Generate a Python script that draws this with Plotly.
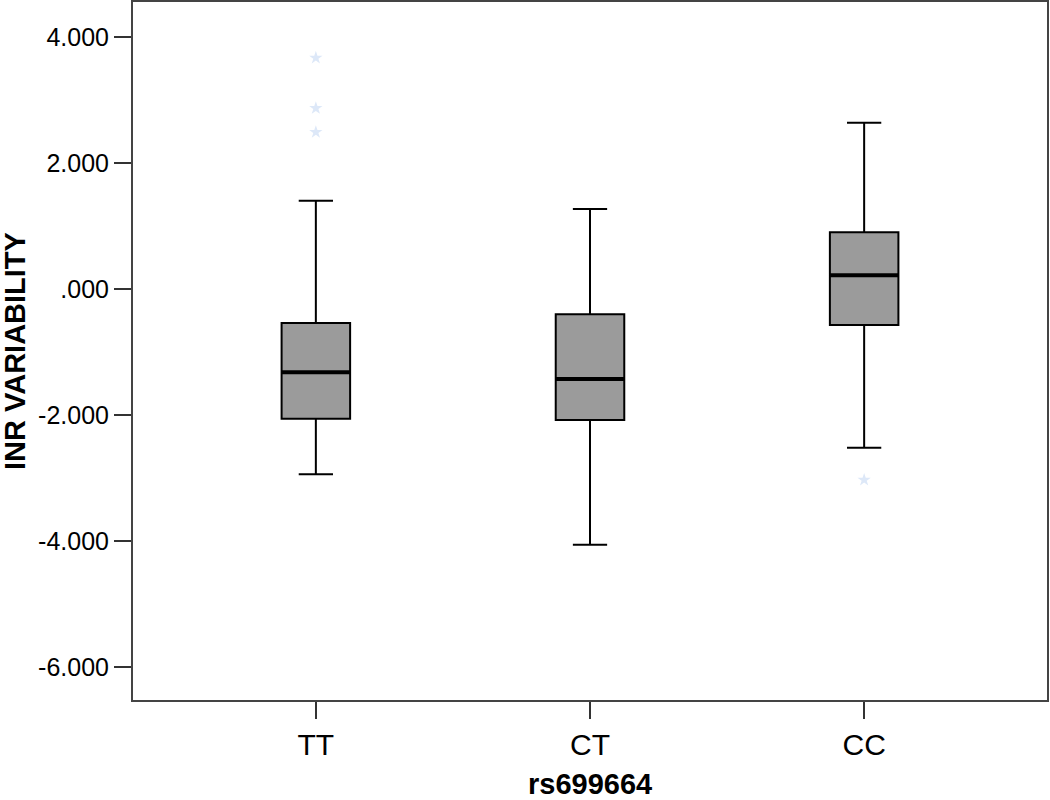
import plotly.graph_objects as go

# genotype groups along the x axis
genotypes = ["TT", "CT", "CC"]
positions = [0, 1, 2]

# box statistics
q1 = [-2.06, -2.08, -0.57]
median = [-1.32, -1.43, 0.22]
q3 = [-0.54, -0.40, 0.90]
lower_whisker = [-2.94, -4.06, -2.52]
upper_whisker = [1.40, 1.27, 2.64]

# extreme values (stars)
outlier_group = [0, 0, 0, 2]
outlier_value = [3.67, 2.87, 2.49, -3.03]

y_ticks = [4, 2, 0, -2, -4, -6]
y_tick_text = ["4.000", "2.000", ".000", "-2.000", "-4.000", "-6.000"]

box_width = 0.25
font_family = "Liberation Sans, Arial, sans-serif"

fig = go.Figure()

fig.add_trace(
    go.Box(
        x=positions,
        q1=q1,
        median=median,
        q3=q3,
        lowerfence=lower_whisker,
        upperfence=upper_whisker,
        width=box_width,
        whiskerwidth=0.5,
        fillcolor="#9b9b9b",
        line=dict(color="black", width=2),
        boxpoints=False,
        showlegend=False,
        hoverinfo="skip",
    )
)

# thicker median bar, as in the SPSS output
for pos, med in zip(positions, median):
    fig.add_trace(
        go.Scatter(
            x=[pos - box_width / 2, pos + box_width / 2],
            y=[med, med],
            mode="lines",
            line=dict(color="black", width=4),
            showlegend=False,
            hoverinfo="skip",
        )
    )

fig.add_trace(
    go.Scatter(
        x=outlier_group,
        y=outlier_value,
        mode="markers",
        marker=dict(symbol="star", size=10, color="#dde8f8"),
        showlegend=False,
    )
)

fig.update_xaxes(
    range=[-0.667, 2.667],
    tickvals=positions,
    ticktext=genotypes,
    ticks="outside",
    ticklen=17,
    tickwidth=2,
    tickcolor="#333333",
    tickfont=dict(size=30, color="black"),
    showline=True,
    linecolor="#444444",
    linewidth=2,
    mirror=True,
    showgrid=False,
    zeroline=False,
    automargin=False,
)

fig.update_yaxes(
    range=[-6.524, 4.556],
    tickvals=y_ticks,
    ticktext=y_tick_text,
    ticks="outside",
    ticklen=17,
    tickwidth=2,
    tickcolor="#333333",
    tickfont=dict(size=25, color="black"),
    showline=True,
    linecolor="#444444",
    linewidth=2,
    mirror=True,
    showgrid=False,
    zeroline=False,
    automargin=False,
)

fig.add_annotation(
    text="<b>rs699664</b>",
    xref="paper",
    yref="paper",
    x=0.5,
    y=0,
    xanchor="center",
    yanchor="middle",
    yshift=-84,
    showarrow=False,
    font=dict(size=29, color="black"),
)

fig.add_annotation(
    text="<b>INR VARIABILITY</b>",
    xref="paper",
    yref="paper",
    x=0,
    y=0.5,
    xanchor="center",
    yanchor="middle",
    xshift=-118,
    textangle=-90,
    showarrow=False,
    font=dict(size=29, color="black"),
)

fig.update_layout(
    width=1050,
    height=800,
    margin=dict(l=133, r=3, t=2, b=100),
    paper_bgcolor="white",
    plot_bgcolor="white",
    font=dict(family=font_family, color="black"),
)

# drop the browser's default 8px body margin so the figure sits at 0,0
fig.write_html(
    "out.html",
    config={"displayModeBar": False},
    post_script="document.body.style.margin='0';",
)
